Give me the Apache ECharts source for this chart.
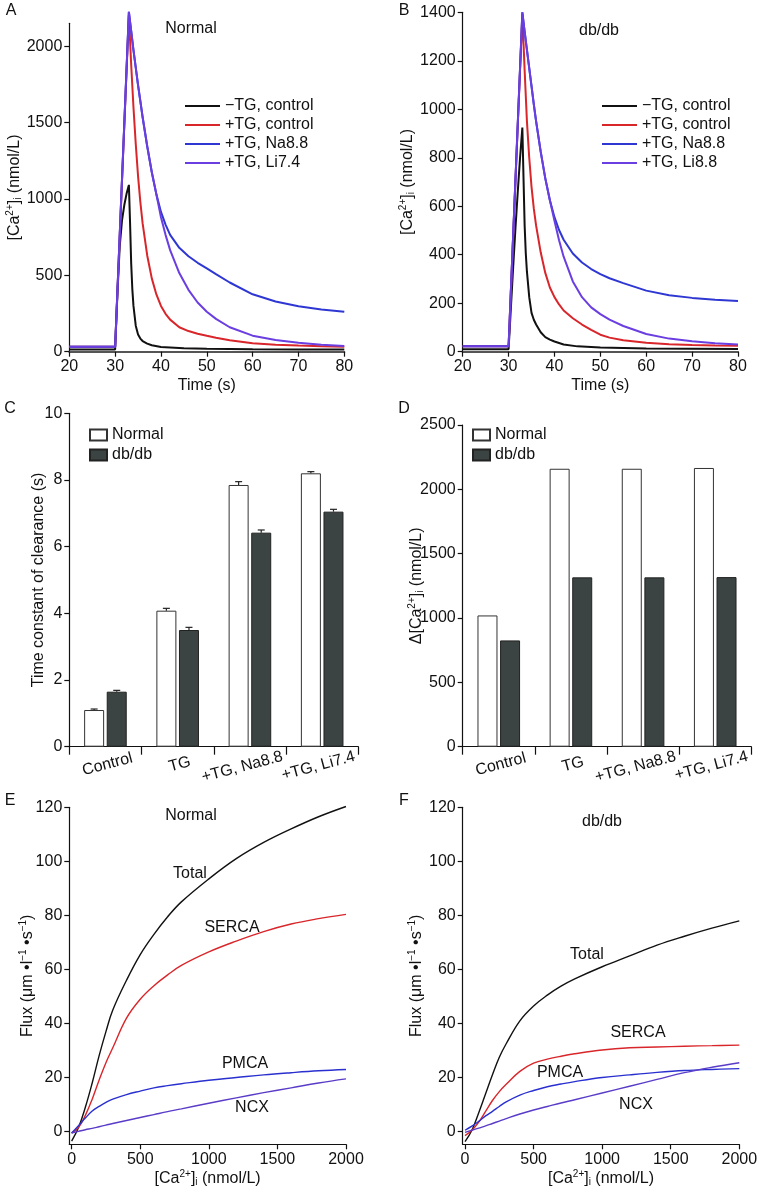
<!DOCTYPE html>
<html>
<head>
<meta charset="utf-8">
<script src="https://cdn.jsdelivr.net/npm/echarts@6/dist/echarts.min.js"></script>
<style>
html,body{margin:0;padding:0;background:#fff;}
#c{width:764px;height:1192px;}
</style>
</head>
<body>
<div id="c"></div>
<script>
// ---------- DATA ----------
// Panel A (Normal) : time (s) and [Ca2+]i (nmol/L)
const aBlackT = [20, 30, 30.5, 31, 31.5, 32, 32.5, 33, 33.25, 33.5, 33.75, 34, 34.5, 35, 35.5, 36, 37, 38, 40, 45, 50, 60, 70, 80];
const aBlackV = [15, 15, 380, 690, 860, 960, 1035, 1092, 850, 580, 410, 300, 170, 112, 86, 70, 53, 42, 31, 22, 19, 16, 15, 15];
const tgT = [20, 30, 33, 33.5, 34, 34.5, 35, 35.5, 36, 37, 38, 39, 40, 41, 42, 44, 46, 48, 50, 52, 55, 60, 65, 70, 75, 80];
const aRedV    = [33, 33, 2205, 1880, 1600, 1360, 1150, 980, 840, 630, 480, 375, 300, 248, 210, 160, 135, 118, 104, 92, 75, 56, 46, 40, 36, 33];
const aBlueV   = [33, 33, 2225, 2100, 1975, 1860, 1745, 1640, 1535, 1345, 1175, 1030, 915, 832, 765, 680, 625, 582, 545, 508, 453, 376, 329, 298, 277, 262];
const aPurpleV = [33, 33, 2225, 2100, 1975, 1860, 1745, 1640, 1535, 1345, 1175, 1030, 880, 765, 665, 515, 405, 322, 262, 215, 160, 105, 76, 58, 46, 38];

// Panel B (db/db)
const bBlackT = [20, 30, 30.5, 31, 31.5, 32, 32.5, 33, 33.25, 33.5, 33.75, 34, 34.5, 35, 35.5, 36, 37, 38, 39, 40, 42, 45, 50, 60, 80];
const bBlackV = [10, 10, 180, 350, 510, 660, 800, 925, 720, 520, 405, 330, 225, 160, 132, 112, 80, 60, 50, 42, 30, 22, 17, 13, 11];
const bRedV    = [22, 22, 1390, 1160, 950, 800, 680, 590, 520, 410, 325, 265, 225, 195, 170, 138, 112, 90, 70, 58, 47, 37, 31, 28, 26, 25];
const bBlueV   = [22, 22, 1400, 1320, 1245, 1170, 1095, 1020, 950, 825, 715, 625, 555, 502, 462, 405, 368, 341, 320, 303, 283, 252, 233, 222, 214, 209];
const bPurpleV = [22, 22, 1400, 1320, 1245, 1170, 1095, 1020, 950, 825, 715, 625, 540, 460, 392, 290, 225, 183, 155, 132, 106, 73, 54, 43, 35, 30];

const seriesNamesA = ['\u2212TG, control', '+TG, control', '+TG, Na8.8', '+TG, Li7.4'];
const seriesNamesB = ['\u2212TG, control', '+TG, control', '+TG, Na8.8', '+TG, Li8.8'];

// Panels C, D
const categories = ['Control', 'TG', '+TG, Na8.8', '+TG, Li7.4'];
const cNormal = [1.1, 4.08, 7.85, 8.2];
const cNormalErr = [0.03, 0.07, 0.1, 0.05];
const cDb = [1.65, 3.5, 6.42, 7.05];
const cDbErr = [0.04, 0.08, 0.08, 0.07];
const dNormal = [1020, 2160, 2160, 2166];
const dDb = [826, 1316, 1316, 1318];

// Panels E, F : [Ca2+]i (nmol/L) vs flux
const fluxX = [0, 50, 100, 150, 200, 250, 300, 400, 500, 600, 700, 800, 1000, 1200, 1400, 1600, 1800, 2000];
const eTotal = [-3.5, 1.5, 9, 18, 28, 37, 45, 56, 65.5, 73, 79.5, 85, 93.5, 101, 107, 112, 116.5, 120.3];
const eSERCA = [-0.5, 1.5, 6, 12, 19, 25.5, 31, 42, 49, 54, 58, 61.5, 66.5, 70.5, 74, 76.8, 78.8, 80.4];
const ePMCA  = [-0.5, 2.2, 5, 7.6, 9.3, 10.8, 12, 13.7, 15, 16.2, 17, 17.7, 19, 20, 21, 21.8, 22.5, 23];
const eNCX   = [-0.5, 0.1, 0.7, 1.2, 1.8, 2.4, 3.0, 4.1, 5.2, 6.3, 7.4, 8.4, 10.5, 12.5, 14.4, 16.2, 18, 19.5];
const fTotal = [-3.7, 0.5, 7, 14, 21, 27.5, 32.5, 41, 46.5, 50.5, 53.8, 56.5, 61, 65, 69, 72.3, 75.3, 78];
const fSERCA = [-1.5, 0.5, 3.5, 7.5, 11.5, 14.8, 17.5, 22.3, 25.3, 26.8, 27.9, 28.8, 30.2, 31, 31.3, 31.6, 31.8, 32];
const fPMCA  = [0.5, 2, 3.8, 5.8, 7.5, 9.3, 11, 13.5, 15.2, 16.6, 17.6, 18.5, 20, 21, 21.9, 22.6, 23, 23.3];
const fNCX   = [-0.3, 0.5, 1.3, 2.1, 3, 3.9, 4.8, 6.5, 8, 9.3, 10.6, 11.8, 14.3, 16.8, 19.3, 21.8, 23.8, 25.5];

const ticksA_y = [0, 500, 1000, 1500, 2000];
const ticksFlux_x = [0, 500, 1000, 1500, 2000];
const ticksFlux_y = [0, 20, 40, 60, 80, 100, 120];

// ---------- STYLE ----------
const FONT = 'Liberation Sans, Arial, Helvetica, sans-serif';
const TXT = '#111';
const C_BLACK = '#111111', C_RED = '#d8262b', C_BLUE = '#2f37d2', C_PURPLE = '#6a3ee0';
const C_PMCA = '#2a30cf', C_NCX = '#5a3cc8';
const FS = 16;
const plain = v => String(v);

const richCa = {
  sup: {fontSize: 10, verticalAlign: 'top', lineHeight: 10, fontFamily: FONT, color: TXT},
  sub: {fontSize: 10, verticalAlign: 'bottom', lineHeight: 10, fontFamily: FONT, color: TXT}
};

// category labels: small leftward nudges as in the reference (via rich padding)
const catRich = {
  p0: {fontSize: FS, fontFamily: FONT, color: TXT, padding: [0, 0, 0, 0]},
  p1: {fontSize: FS, fontFamily: FONT, color: TXT, padding: [0, 0, 0, 0]},
  p2: {fontSize: FS, fontFamily: FONT, color: TXT, padding: [0, 20, 0, 0]},
  p3: {fontSize: FS, fontFamily: FONT, color: TXT, padding: [0, 12, 0, 0]}
};

function pairs(xs, ys) { return xs.map((x, i) => [x, ys[i]]); }

function valAxis(gi, o) {
  const base = {
    type: 'value', gridIndex: gi,
    axisLine: {show: true, onZero: false, lineStyle: {color: '#111', width: 1.2}},
    axisTick: {show: true, length: 5, inside: false, lineStyle: {color: '#111', width: 1.2}},
    axisLabel: {fontSize: FS, color: TXT, fontFamily: FONT, margin: 7, formatter: plain},
    splitLine: {show: false},
    nameLocation: 'middle',
    nameMoveOverlap: false,
    nameTextStyle: {fontSize: FS, color: TXT, fontFamily: FONT, lineHeight: 18, rich: richCa}
  };
  for (const k in o) {
    if (typeof o[k] === 'object' && !Array.isArray(o[k]) && base[k]) base[k] = Object.assign({}, base[k], o[k]);
    else base[k] = o[k];
  }
  return base;
}
function catAxis(gi) {
  return {
    type: 'category', gridIndex: gi, boundaryGap: true, data: categories,
    axisLine: {show: true, onZero: false, lineStyle: {color: '#111', width: 1.2}},
    axisTick: {show: true, length: 8, alignWithLabel: false, lineStyle: {color: '#111', width: 1.2}},
    axisLabel: {interval: 0, rotate: 15, align: 'center', verticalAlign: 'top', margin: 10,
      fontSize: FS, color: TXT, fontFamily: FONT,
      formatter: (v, i) => '{p' + i + '|' + v + '}', rich: catRich}
  };
}

function lineSeries(name, gi, data, color, width, smooth) {
  return {
    type: 'line', name: name, xAxisIndex: gi, yAxisIndex: gi, data: data,
    symbol: 'none', smooth: smooth || false, clip: false, silent: true,
    lineStyle: {color: color, width: width}, itemStyle: {color: color},
    animation: false
  };
}

function errSeries(gi, means, errs, offset) {
  return {
    type: 'custom', xAxisIndex: gi, yAxisIndex: gi, silent: true, z: 5, animation: false,
    data: means.map((m, i) => [i, m, errs[i]]),
    encode: {x: 0, y: 1},
    renderItem: function (params, api) {
      const p0 = api.coord([api.value(0), api.value(1)]);
      const p1 = api.coord([api.value(0), api.value(1) + api.value(2)]);
      const x = p0[0] + offset;
      const st = {stroke: '#222', lineWidth: 1.2};
      return {type: 'group', children: [
        {type: 'line', shape: {x1: x, y1: p0[1], x2: x, y2: p1[1]}, style: st},
        {type: 'line', shape: {x1: x - 3.5, y1: p1[1], x2: x + 3.5, y2: p1[1]}, style: st}
      ]};
    }
  };
}

const barNormalStyle = {color: '#ffffff', borderColor: '#333', borderWidth: 1};
const barDbStyle = {color: '#3b4443', borderColor: '#222', borderWidth: 1};

function txt(x, y, s, extra) {
  return Object.assign({type: 'text', x: x, y: y, silent: true,
    style: Object.assign({text: s, font: '16px ' + FONT, fill: TXT, textAlign: 'center', textVerticalAlign: 'middle'}, extra || {})});
}

const lineLegend = {orient: 'vertical', top: 98, padding: 0, itemWidth: 35, itemHeight: 2, itemGap: 3,
  icon: 'rect', selectedMode: false, textStyle: {fontSize: 16, color: TXT, fontFamily: FONT}};
const barLegend = {orient: 'vertical', top: 427, padding: 0, itemWidth: 17, itemHeight: 11, itemGap: 4,
  icon: 'rect', selectedMode: false, textStyle: {fontSize: 16, color: TXT, fontFamily: FONT}};

const option = {
  backgroundColor: '#fff',
  animation: false,
  textStyle: {fontFamily: FONT},
  grid: [
    {left: 69.3, top: 23.3, width: 275, height: 328.4, outerBoundsMode: 'none'},
    {left: 462.7, top: 12.3, width: 275.3, height: 339.4, outerBoundsMode: 'none'},
    {left: 69.3, top: 413.3, width: 289, height: 333.4, outerBoundsMode: 'none'},
    {left: 462.7, top: 425, width: 288.6, height: 321.7, outerBoundsMode: 'none'},
    {left: 69.3, top: 807.3, width: 276.7, height: 337, outerBoundsMode: 'none'},
    {left: 462.7, top: 807.3, width: 276.6, height: 337, outerBoundsMode: 'none'}
  ],
  xAxis: [
    valAxis(0, {min: 20, max: 80, interval: 10, name: 'Time (s)', nameGap: 25,
      axisLine: {show: true, onZero: false, lineStyle: {color: '#555', width: 2}}}),
    valAxis(1, {min: 20, max: 80, interval: 10, name: 'Time (s)', nameGap: 25,
      axisLine: {show: true, onZero: false, lineStyle: {color: '#555', width: 2}}}),
    catAxis(2),
    catAxis(3),
    valAxis(4, {min: -17, max: 2000, name: '[Ca{sup|2+}]{sub|i} (nmol/L)', nameGap: 25,
      axisTick: {customValues: ticksFlux_x}, axisLabel: {customValues: ticksFlux_x}}),
    valAxis(5, {min: -17, max: 2000, name: '[Ca{sup|2+}]{sub|i} (nmol/L)', nameGap: 25,
      axisTick: {customValues: ticksFlux_x}, axisLabel: {customValues: ticksFlux_x}})
  ],
  yAxis: [
    valAxis(0, {min: 0, max: 2150, name: '[Ca{sup|2+}]{sub|i} (nmol/L)', nameGap: 46,
      axisTick: {customValues: ticksA_y}, axisLabel: {customValues: ticksA_y}}),
    valAxis(1, {min: 0, max: 1400, interval: 200, name: '[Ca{sup|2+}]{sub|i} (nmol/L)', nameGap: 46}),
    valAxis(2, {min: 0, max: 10, interval: 2, name: 'Time constant of clearance (s)', nameGap: 22}),
    valAxis(3, {min: 0, max: 2500, interval: 500, name: '\u0394[Ca{sup|2+}]{sub|i} (nmol/L)', nameGap: 37}),
    valAxis(4, {min: -4.7, max: 120, name: 'Flux (\u03bcm \u2022l{sup|\u22121} \u2022s{sup|\u22121})', nameGap: 33,
      axisTick: {customValues: ticksFlux_y}, axisLabel: {customValues: ticksFlux_y}}),
    valAxis(5, {min: -4.7, max: 120, name: 'Flux (\u03bcm \u2022l{sup|\u22121} \u2022s{sup|\u22121})', nameGap: 37,
      axisTick: {customValues: ticksFlux_y}, axisLabel: {customValues: ticksFlux_y}})
  ],
  legend: [
    Object.assign({}, lineLegend, {data: seriesNamesA, left: 185}),
    Object.assign({}, lineLegend, {data: seriesNamesB, left: 602}),
    Object.assign({}, barLegend, {data: ['Normal', 'db/db'], left: 89}),
    Object.assign({}, barLegend, {data: ['Normal', 'db/db'], left: 472})
  ],
  series: [
    // A
    lineSeries(seriesNamesA[0], 0, pairs(aBlackT, aBlackV), C_BLACK, 2),
    lineSeries(seriesNamesA[1], 0, pairs(tgT, aRedV), C_RED, 2),
    lineSeries(seriesNamesA[2], 0, pairs(tgT, aBlueV), C_BLUE, 2),
    lineSeries(seriesNamesA[3], 0, pairs(tgT, aPurpleV), C_PURPLE, 2),
    // B
    lineSeries(seriesNamesB[0], 1, pairs(bBlackT, bBlackV), C_BLACK, 2),
    lineSeries(seriesNamesB[1], 1, pairs(tgT, bRedV), C_RED, 2),
    lineSeries(seriesNamesB[2], 1, pairs(tgT, bBlueV), C_BLUE, 2),
    lineSeries(seriesNamesB[3], 1, pairs(tgT, bPurpleV), C_PURPLE, 2),
    // C
    {type: 'bar', name: 'Normal', xAxisIndex: 2, yAxisIndex: 2, data: cNormal, barWidth: 20, barGap: '13%',
      itemStyle: barNormalStyle, silent: true, animation: false},
    {type: 'bar', name: 'db/db', xAxisIndex: 2, yAxisIndex: 2, data: cDb, barWidth: 20, barGap: '13%',
      itemStyle: barDbStyle, silent: true, animation: false},
    errSeries(2, cNormal, cNormalErr, -11.3),
    errSeries(2, cDb, cDbErr, 11.3),
    // D
    {type: 'bar', name: 'Normal', xAxisIndex: 3, yAxisIndex: 3, data: dNormal, barWidth: 20, barGap: '13%',
      itemStyle: barNormalStyle, silent: true, animation: false},
    {type: 'bar', name: 'db/db', xAxisIndex: 3, yAxisIndex: 3, data: dDb, barWidth: 20, barGap: '13%',
      itemStyle: barDbStyle, silent: true, animation: false},
    // E
    lineSeries('Total E', 4, pairs(fluxX, eTotal), C_BLACK, 1.4, 0.4),
    lineSeries('SERCA E', 4, pairs(fluxX, eSERCA), C_RED, 1.4, 0.4),
    lineSeries('PMCA E', 4, pairs(fluxX, ePMCA), C_PMCA, 1.4, 0.4),
    lineSeries('NCX E', 4, pairs(fluxX, eNCX), C_NCX, 1.4, 0.4),
    // F
    lineSeries('Total F', 5, pairs(fluxX, fTotal), C_BLACK, 1.4, 0.4),
    lineSeries('SERCA F', 5, pairs(fluxX, fSERCA), C_RED, 1.4, 0.4),
    lineSeries('PMCA F', 5, pairs(fluxX, fPMCA), C_PMCA, 1.4, 0.4),
    lineSeries('NCX F', 5, pairs(fluxX, fNCX), C_NCX, 1.4, 0.4)
  ],
  graphic: [
    txt(11, 11, 'A'), txt(404, 11, 'B'),
    txt(10, 409, 'C'), txt(404, 409, 'D'),
    txt(10, 801, 'E'), txt(404, 801, 'F'),
    txt(191, 29, 'Normal'), txt(599, 31, 'db/db'),
    txt(191, 816, 'Normal'), txt(190, 874, 'Total'), txt(232, 928, 'SERCA'),
    txt(245, 1064, 'PMCA'), txt(252, 1108, 'NCX'),
    txt(602, 822, 'db/db'), txt(587, 955, 'Total'), txt(638, 1033, 'SERCA'),
    txt(560, 1073, 'PMCA'), txt(636, 1105, 'NCX')
  ]
};

const chart = echarts.init(document.getElementById('c'), null, {renderer: 'canvas', width: 764, height: 1192});
chart.setOption(option);
</script>
</body>
</html>
